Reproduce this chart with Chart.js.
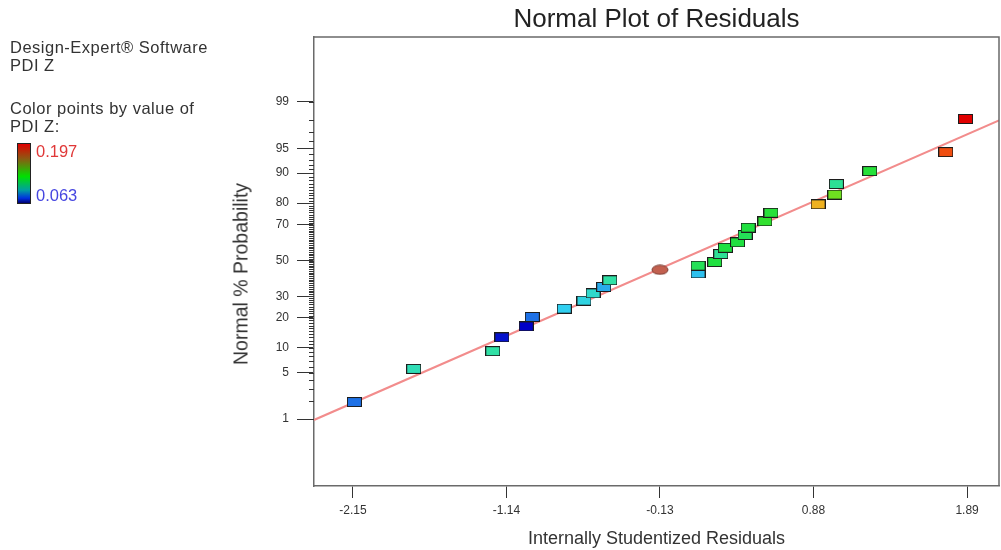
<!DOCTYPE html>
<html>
<head>
<meta charset="utf-8">
<title>Normal Plot of Residuals</title>
<script src="https://cdn.jsdelivr.net/npm/chart.js@4.4.1/dist/chart.umd.min.js"></script>
<style>
  html, body { margin: 0; padding: 0; background: #fff; overflow: hidden; }
  #wrap { position: relative; width: 1001px; height: 550px; font-family: 'Liberation Sans', Arial, sans-serif; color: #333; }
  #chart { position: absolute; left: 0; top: 0; }
  .side { position: absolute; left: 10px; font-size: 16.5px; line-height: 18px; letter-spacing: 0.5px; white-space: nowrap; }
  #bar { position: absolute; left: 17px; top: 143px; width: 12px; height: 59px; border: 1px solid #222;
    background: linear-gradient(to bottom, #e00000 0%, #8c5a12 25%, #00e000 55%, #00a0a0 78%, #0030e0 92%, #000070 100%); }
  .val { position: absolute; left: 36px; font-size: 16.5px; line-height: 18px; }
  #ytitle { position: absolute; left: 241px; top: 274px; font-size: 19.5px; white-space: nowrap;
    transform: translate(-50%, -50%) rotate(-90deg); }
</style>
</head>
<body>
<div id="wrap">
  <canvas id="chart" width="1001" height="550"></canvas>
  <div class="side" style="top:38px">Design-Expert® Software<br>PDI Z</div>
  <div class="side" style="top:99px">Color points by value of<br>PDI Z:</div>
  <div id="bar"></div>
  <div class="val" style="top:142px;color:#e03838">0.197</div>
  <div class="val" style="top:186px;color:#4646e0">0.063</div>
  <div id="ytitle">Normal % Probability</div>
</div>
<script>
// residuals (x) and normal % probability (y)
const residuals = [-2.14, -1.75, -1.23, -1.17, -1.01, -0.97, -0.76, -0.63, -0.57, -0.50, -0.46,
  0.12, 0.12, 0.23, 0.27, 0.30, 0.38, 0.43, 0.45, 0.56, 0.60, 0.91, 1.02, 1.03, 1.25, 1.75, 1.88];
const probabilities = [1.9, 5.6, 9.2, 13.0, 16.7, 20.4, 24.0, 27.8, 31.5, 34.9, 38.6,
  42.5, 47.0, 49.1, 53.8, 57.4, 60.5, 64.6, 68.5, 71.7, 75.8, 79.5, 83.3, 86.9, 90.5, 94.4, 98.1];
const pdiZ = [0.090, 0.114, 0.117, 0.067, 0.063, 0.090, 0.103, 0.106, 0.110, 0.098, 0.117,
  0.101, 0.127, 0.130, 0.119, 0.130, 0.130, 0.127, 0.130, 0.137, 0.133, 0.170, 0.150, 0.119, 0.133, 0.184, 0.197];

// the highlighted (oval) run
const highlightX = [-0.13];
const highlightP = [44.6];

// fitted normal line, ends at the plot edges
const fitX = [-2.406, 2.100];
const fitP = [0.97, 98.0];

const xTicks = [-2.15, -1.14, -0.13, 0.88, 1.89];
const yTickLabels = [1, 5, 10, 20, 30, 50, 70, 80, 90, 95, 99];
const pdiRange = [0.063, 0.197];

const font = "'Liberation Sans', Arial, sans-serif";

// inverse normal cdf (Acklam), input in percent
function probit(pct) {
  const p = pct / 100;
  const a = [-3.969683028665376e+01, 2.209460984245205e+02, -2.759285104469687e+02, 1.383577518672690e+02, -3.066479806614716e+01, 2.506628277459239e+00];
  const b = [-5.447609879822406e+01, 1.615858368580409e+02, -1.556989798598866e+02, 6.680131188771972e+01, -1.328068155288572e+01];
  const c = [-7.784894002430293e-03, -3.223964580411365e-01, -2.400758277161838e+00, -2.549732539343734e+00, 4.374664141464968e+00, 2.938163982698783e+00];
  const d = [7.784695709041462e-03, 3.224671290700398e-01, 2.445134137142996e+00, 3.754408661907416e+00];
  const pl = 0.02425;
  if (p < pl) {
    const q = Math.sqrt(-2 * Math.log(p));
    return (((((c[0]*q+c[1])*q+c[2])*q+c[3])*q+c[4])*q+c[5]) / ((((d[0]*q+d[1])*q+d[2])*q+d[3])*q+1);
  }
  if (p > 1 - pl) {
    const q = Math.sqrt(-2 * Math.log(1 - p));
    return -(((((c[0]*q+c[1])*q+c[2])*q+c[3])*q+c[4])*q+c[5]) / ((((d[0]*q+d[1])*q+d[2])*q+d[3])*q+1);
  }
  const q = p - 0.5, r = q * q;
  return (((((a[0]*r+a[1])*r+a[2])*r+a[3])*r+a[4])*r+a[5])*q / (((((b[0]*r+b[1])*r+b[2])*r+b[3])*r+b[4])*r+1);
}

// Design-Expert style colour ramp
const ramp = [
  [0.0, [0, 0, 200]], [0.2, [30, 112, 230]], [0.3, [48, 208, 240]], [0.4, [48, 224, 168]],
  [0.5, [32, 224, 64]], [0.6, [64, 224, 32]], [0.7, [160, 224, 32]], [0.8, [240, 176, 32]],
  [0.9, [240, 80, 16]], [1.0, [224, 0, 0]],
];
function pdiColor(v) {
  const t = Math.min(1, Math.max(0, (v - pdiRange[0]) / (pdiRange[1] - pdiRange[0])));
  for (let i = 1; i < ramp.length; i++) {
    if (t <= ramp[i][0]) {
      const [t0, c0] = ramp[i - 1], [t1, c1] = ramp[i];
      const f = (t - t0) / (t1 - t0);
      const c = c0.map((k, j) => Math.round(k + (c1[j] - k) * f));
      return `rgb(${c[0]},${c[1]},${c[2]})`;
    }
  }
  return 'rgb(224,0,0)';
}

const markerCache = {};
function rectMarker(color) {
  if (markerCache[color]) return markerCache[color];
  const cv = document.createElement('canvas');
  cv.width = 15; cv.height = 10;
  const g = cv.getContext('2d');
  g.fillStyle = color;
  g.fillRect(0.5, 0.5, 14, 9);
  g.strokeStyle = '#1c1c1c';
  g.lineWidth = 1;
  g.strokeRect(0.5, 0.5, 14, 9);
  markerCache[color] = cv;
  return cv;
}
function ovalMarker() {
  const cv = document.createElement('canvas');
  cv.width = 18; cv.height = 11;
  const g = cv.getContext('2d');
  g.beginPath();
  g.ellipse(9, 5.5, 8, 4.6, 0, 0, Math.PI * 2);
  g.fillStyle = '#c2604f';
  g.fill();
  g.strokeStyle = '#7a3a30';
  g.lineWidth = 1;
  g.stroke();
  return cv;
}

const pointColors = pdiZ.map(pdiColor);

const framePlugin = {
  id: 'frame',
  afterDraw(chart) {
    const { ctx, chartArea: a, scales } = chart;
    ctx.save();
    ctx.strokeStyle = '#6a6a6a';
    ctx.lineWidth = 1.5;
    ctx.beginPath();
    ctx.moveTo(a.left, a.top);
    ctx.lineTo(a.right, a.top);
    ctx.lineTo(a.right, a.bottom);
    ctx.stroke();
    // minor probability ticks, every whole percent
    ctx.strokeStyle = '#333';
    ctx.lineWidth = 1;
    ctx.beginPath();
    for (let p = 1; p <= 99; p++) {
      const y = Math.round(scales.y.getPixelForValue(probit(p))) + 0.5;
      ctx.moveTo(a.left - 5, y);
      ctx.lineTo(a.left, y);
    }
    ctx.stroke();
    ctx.restore();
  },
};

new Chart(document.getElementById('chart'), {
  type: 'scatter',
  data: {
    datasets: [
      {
        type: 'line',
        label: 'fit',
        data: fitX.map((x, i) => ({ x, y: probit(fitP[i]) })),
        borderColor: '#f28c8c',
        borderWidth: 2,
        pointRadius: 0,
        order: 3,
      },
      {
        label: 'PDI Z',
        data: residuals.map((x, i) => ({ x, y: probit(probabilities[i]) })),
        pointStyle: (ctx) => rectMarker(pointColors[ctx.dataIndex] || '#000'),
        pointRadius: 7,
        order: 1,
      },
      {
        label: 'highlight',
        data: highlightX.map((x, i) => ({ x, y: probit(highlightP[i]) })),
        pointStyle: ovalMarker(),
        pointRadius: 8,
        order: 1,
      },
    ],
  },
  options: {
    responsive: false,
    animation: false,
    layout: { autoPadding: false, padding: { left: 0, right: 2, top: 0, bottom: 0 } },
    plugins: {
      legend: { display: false },
      tooltip: { enabled: false },
      title: {
        display: true,
        text: 'Normal Plot of Residuals',
        fullSize: false,
        color: '#222',
        font: { family: font, size: 26, weight: 'normal' },
        padding: { top: 4, bottom: 1.8 },
      },
    },
    scales: {
      x: {
        type: 'linear',
        min: -2.406,
        max: 2.100,
        afterBuildTicks: (s) => { s.ticks = xTicks.map((v) => ({ value: v })); },
        afterFit: (s) => { s.height = 64; s.paddingLeft = 0; s.paddingRight = 0; },
        ticks: {
          callback: (v) => v.toFixed(2),
          color: '#333',
          font: { family: font, size: 12 },
          padding: 5,
          maxRotation: 0,
        },
        grid: { drawOnChartArea: false, tickLength: 12, tickColor: '#333', tickWidth: 1 },
        border: { color: '#6a6a6a', width: 1.5 },
        title: {
          display: true,
          text: 'Internally Studentized Residuals',
          color: '#333',
          font: { family: font, size: 18 },
          padding: { top: 4, bottom: 0 },
        },
      },
      y: {
        type: 'linear',
        min: -3.306,
        max: 3.277,
        afterBuildTicks: (s) => { s.ticks = yTickLabels.map((p) => ({ value: probit(p) })); },
        afterFit: (s) => { s.width = 314; s.paddingTop = 0; s.paddingBottom = 0; },
        ticks: {
          callback: (v, i) => String(yTickLabels[i]),
          color: '#333',
          font: { family: font, size: 12 },
          padding: 8,
        },
        grid: { drawOnChartArea: false, tickLength: 17, tickColor: '#333', tickWidth: 1 },
        border: { color: '#6a6a6a', width: 1.5 },
      },
    },
  },
  plugins: [framePlugin],
});
</script>
</body>
</html>
